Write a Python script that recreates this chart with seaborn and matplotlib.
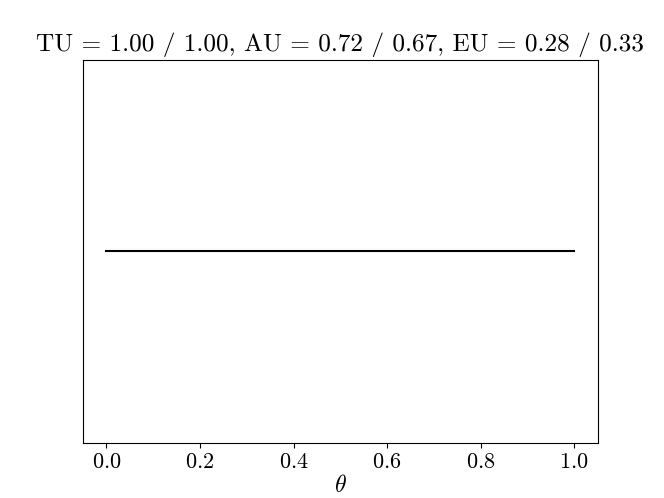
import matplotlib
matplotlib.use("Agg")
import matplotlib.pyplot as plt
import seaborn as sns
import pandas as pd

# parameter grid and (flat) posterior density values
theta = [0.0, 0.1, 0.2, 0.3, 0.4, 0.5, 0.6, 0.7, 0.8, 0.9, 1.0]
density = [1.0, 1.0, 1.0, 1.0, 1.0, 1.0, 1.0, 1.0, 1.0, 1.0, 1.0]

tu = (1.00, 1.00)
au = (0.72, 0.67)
eu = (0.28, 0.33)

plt.rcParams['font.family'] = 'serif'
plt.rcParams['font.serif'] = ['cmr10']
plt.rcParams['mathtext.fontset'] = 'cm'
plt.rcParams['axes.formatter.use_mathtext'] = True
plt.rcParams['font.size'] = 17

df = pd.DataFrame({'theta': theta, 'density': density})

fig, ax = plt.subplots(figsize=(6.64, 4.98), dpi=100)
sns.lineplot(data=df, x='theta', y='density', color='black', ax=ax)

ax.set_title(f"TU = {tu[0]:.2f} / {tu[1]:.2f}, AU = {au[0]:.2f} / {au[1]:.2f}, "
             f"EU = {eu[0]:.2f} / {eu[1]:.2f}", fontsize=18.2)
ax.set_xlabel(r"$\theta$", labelpad=2)
ax.set_ylabel("")
ax.set_yticks([])
ax.set_xticks([0.0, 0.2, 0.4, 0.6, 0.8, 1.0])
ax.set_xticklabels([f"${v:.1f}$" for v in [0.0, 0.2, 0.4, 0.6, 0.8, 1.0]])
ax.tick_params(axis='x', labelsize=16)

fig.savefig("out.png", dpi=100)
